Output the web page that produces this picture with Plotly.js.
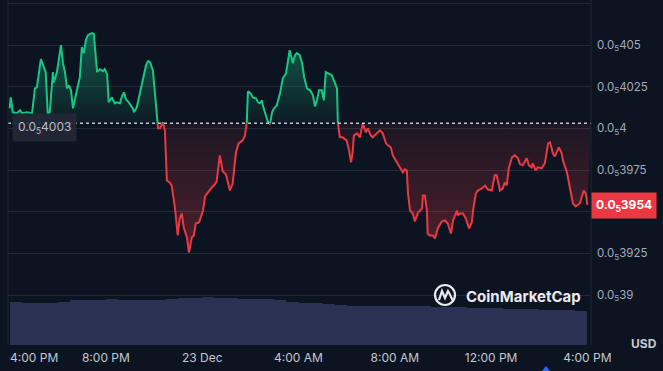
<!DOCTYPE html>
<html><head><meta charset="utf-8">
<script src="https://cdn.plot.ly/plotly-3.0.1.min.js"></script>
<style>html,body{margin:0;padding:0;background:#0d1421;overflow:hidden}#chart{width:663px;height:371px}</style>
</head><body><div id="chart"></div>
<script>
// Time origin: 22 Dec, 4:00 PM. minutes = minutes after that moment.
const START = Date.UTC(2023, 11, 22, 16, 0, 0);
const minutes = [
  0,3,8,18,26,31,43,56,63,68,
  78,83,90,95,100,108,110,118,128,133,
  138,143,148,153,158,165,175,180,185,190,
  195,205,210,215,218,225,233,237,243,247,
  255,258,262,267,275,280,285,290,297,307,
  310,317,330,340,345,350,357,360,367,370,
  375,382,387,392,399,404,412,419,424,429,
  434,442,447,454,459,464,472,482,487,494,
  504,511,516,524,531,539,549,556,564,571,
  581,586,591,594,601,606,614,619,624,629,
  631,639,644,649,654,659,666,674,681,689,
  693,698,706,711,716,723,729,734,741,749,
  756,761,766,771,778,783,788,793,803,808,
  816,818,823,830,840,846,851,855,858,866,
  873,880,888,893,900,905,915,923,930,938,
  943,950,955,965,973,980,985,990,993,998,
  1005,1010,1018,1028,1030,1035,1040,1042,1047,1055,
  1060,1067,1077,1085,1092,1100,1105,1115,1117,1122,
  1130,1137,1145,1152,1155,1162,1167,1177,1185,1192,
  1202,1209,1214,1222,1229,1234,1239,1244,1252,1259,
  1267,1272,1279,1289,1294,1301,1304,1311,1316,1326,
  1334,1342,1347,1354,1359,1369,1376,1379,1389,1396,
  1404,1411,1421,1431,1436,1440
];
// price in units of 1e-6 USD (0.0₅4003 = 0.000004003)
const prices = [
  4.0120,4.0186,4.0096,4.0090,4.0108,4.0090,4.0096,4.0090,4.0240,4.0246,
  4.0415,4.0379,4.0337,4.0090,4.0096,4.0337,4.0276,4.0337,4.0499,4.0391,
  4.0337,4.0240,4.0258,4.0228,4.0120,4.0198,4.0307,4.0487,4.0451,4.0529,
  4.0559,4.0571,4.0565,4.0421,4.0337,4.0355,4.0343,4.0355,4.0325,4.0156,
  4.0186,4.0168,4.0150,4.0156,4.0150,4.0192,4.0216,4.0174,4.0156,4.0120,
  4.0096,4.0126,4.0276,4.0379,4.0403,4.0397,4.0349,4.0270,4.0048,4.0000,
  4.0000,4.0036,3.9988,3.9687,3.9675,3.9657,3.9525,3.9357,3.9459,3.9489,
  3.9405,3.9345,3.9255,3.9345,3.9357,3.9429,3.9435,3.9507,3.9591,3.9615,
  3.9645,3.9663,3.9681,3.9838,3.9742,3.9724,3.9627,3.9669,3.9856,3.9910,
  3.9928,3.9952,4.0030,4.0222,4.0210,4.0186,4.0180,4.0156,4.0150,4.0168,
  4.0138,4.0066,4.0036,4.0024,4.0096,4.0120,4.0138,4.0210,4.0301,4.0331,
  4.0397,4.0469,4.0391,4.0439,4.0451,4.0439,4.0391,4.0307,4.0240,4.0228,
  4.0198,4.0132,4.0168,4.0228,4.0228,4.0168,4.0337,4.0331,4.0319,4.0288,
  4.0240,4.0036,3.9946,3.9946,3.9928,3.9868,3.9796,3.9856,3.9958,3.9970,
  3.9946,4.0028,3.9976,4.0000,3.9958,3.9946,3.9970,3.9988,3.9970,3.9910,
  3.9898,3.9886,3.9838,3.9796,3.9766,3.9736,3.9754,3.9748,3.9609,3.9507,
  3.9489,3.9441,3.9495,3.9519,3.9597,3.9597,3.9507,3.9369,3.9357,3.9357,
  3.9339,3.9399,3.9441,3.9447,3.9429,3.9369,3.9447,3.9507,3.9477,3.9489,
  3.9489,3.9459,3.9399,3.9435,3.9507,3.9609,3.9627,3.9639,3.9657,3.9633,
  3.9627,3.9718,3.9718,3.9627,3.9639,3.9675,3.9657,3.9760,3.9826,3.9838,
  3.9820,3.9784,3.9778,3.9820,3.9778,3.9766,3.9790,3.9748,3.9766,3.9760,
  3.9790,3.9910,3.9916,3.9850,3.9832,3.9886,3.9850,3.9808,3.9736,3.9645,
  3.9549,3.9531,3.9549,3.9627,3.9609,3.9540
];
const openPrice = 4.003;
const lastPrice = 3.954;
// volume per 30-minute bucket (relative)
const volumeBucketMin = 30;
const volume = [
  4.35,4.23,4.23,4.25,4.35,4.50,4.53,4.55,4.57,4.55,
  4.53,4.50,4.55,4.60,4.67,4.75,4.83,4.75,4.67,4.65,
  4.63,4.60,4.55,4.35,4.25,4.17,4.10,4.03,3.95,3.93,
  3.90,3.90,3.88,3.90,3.90,3.85,3.82,3.80,3.75,3.73,
  3.70,3.65,3.62,3.58,3.55,3.52,3.50,3.45
];
const priceTicks = [3.9, 3.925, 3.95, 3.975, 4.0, 4.025, 4.05, 4.075];
const priceTickText = ['0.0<sub>5</sub>39','0.0<sub>5</sub>3925','','0.0<sub>5</sub>3975','0.0<sub>5</sub>4','0.0<sub>5</sub>4025','0.0<sub>5</sub>405',''];
const timeTickMinutes = [240, 480, 720, 960, 1200, 1440];
const timeTickText = ['8:00 PM','23 Dec','4:00 AM','8:00 AM','12:00 PM','4:00 PM'];
const firstTimeLabel = '4:00 PM';
const openLabel = '0.0<sub>5</sub>4003';
const lastLabel = '<b>0.0<sub>5</sub>3954</b>';

const toTime = m => START + m * 60000;
const times = minutes.map(toTime);
const volTimes = volume.map((v, i) => toTime(i * volumeBucketMin + volumeBucketMin / 2));

const Y0 = 3.87, Y1 = 4.077;
const fb = (openPrice - Y0) / (Y1 - Y0);
const xRange = [toTime(-4), toTime(1449)];
const volMax = Math.max(...volume) * 345 / 48.3;

const px2paperX = p => (p - 8) / 583;
const px2paperY = p => (345 - p) / 345;

const GREEN = '#16c784', RED = '#ea3943';
const FONT = 'Inter, "Noto Sans", sans-serif';

const traces = [
  {type:'bar', x: volTimes, y: volume, width: volumeBucketMin*60000, xaxis:'x', yaxis:'y4',
   marker:{color:'#2a3152', line:{width:0}}, hoverinfo:'skip', showlegend:false},
  {type:'scatter', mode:'lines', x: times, y: prices, xaxis:'x', yaxis:'y2',
   line:{color:GREEN, width:2}, fill:'tozeroy',
   fillgradient:{type:'vertical', start: openPrice, stop: 4.058,
     colorscale:[[0,'rgba(22,199,132,0.04)'],[1,'rgba(22,199,132,0.42)']]},
   hoverinfo:'skip', showlegend:false},
  {type:'scatter', mode:'lines', x: xRange, y: [openPrice, openPrice], xaxis:'x', yaxis:'y3',
   line:{width:0, color:'rgba(0,0,0,0)'}, hoverinfo:'skip', showlegend:false},
  {type:'scatter', mode:'lines', x: times, y: prices, xaxis:'x', yaxis:'y3',
   line:{color:RED, width:2}, fill:'tonexty',
   fillgradient:{type:'vertical', start: 3.925, stop: openPrice,
     colorscale:[[0,'rgba(234,57,67,0.30)'],[1,'rgba(234,57,67,0.07)']]},
   hoverinfo:'skip', showlegend:false}
];

const layout = {
  width:663, height:371,
  margin:{l:8, r:72, t:0, b:26},
  paper_bgcolor:'#0d1421', plot_bgcolor:'rgba(0,0,0,0)',
  font:{family:FONT, color:'#c3c7d1'},
  showlegend:false, bargap:0,
  xaxis:{type:'date', range:xRange, tickmode:'array', tickvals: timeTickMinutes.map(toTime),
    ticktext: timeTickText, showgrid:false, zeroline:false, showline:false, ticks:'',
    tickfont:{size:12, color:'#c3c7d1', family:FONT}, ticklabelstandoff:4, automargin:false, fixedrange:true},
  yaxis:{range:[Y0, Y1], domain:[0,1], side:'right', tickmode:'array', tickvals: priceTicks,
    ticktext: priceTickText, showgrid:true, gridcolor:'#232b3b', gridwidth:1, zeroline:false,
    showline:false, ticks:'', tickfont:{size:11.5, color:'#a3a9bb', family:FONT},
    ticklabelstandoff:5, automargin:false, fixedrange:true},
  yaxis2:{range:[openPrice, Y1], domain:[fb, 1], anchor:'x', visible:false, fixedrange:true},
  yaxis3:{range:[Y0, openPrice], domain:[0, fb], anchor:'x', visible:false, fixedrange:true},
  yaxis4:{range:[0, volMax], domain:[0,1], anchor:'x', overlaying:'y', visible:false, fixedrange:true},
  shapes:[
    {type:'line', xref:'paper', yref:'y', x0:0, x1:1, y0:openPrice, y1:openPrice,
     line:{color:'rgba(222,226,234,0.85)', width:1.5, dash:'dot'}},
    {type:'line', xref:'paper', yref:'paper', x0:0, x1:0, y0:0, y1:1, line:{color:'#1f2736', width:1}},
    {type:'line', xref:'paper', yref:'paper', x0:1, x1:1, y0:0, y1:1, line:{color:'#1f2736', width:1}},
    {type:'circle', xref:'paper', yref:'paper', xsizemode:'pixel', ysizemode:'pixel',
     xanchor: px2paperX(445), yanchor: px2paperY(295), x0:-10, x1:10, y0:-10, y1:10,
     line:{color:'#e8eaf0', width:2.2}},
    {type:'path', xref:'paper', yref:'paper', xsizemode:'pixel', ysizemode:'pixel',
     xanchor: px2paperX(445), yanchor: px2paperY(295),
     path:'M -6 -5 L -3 4 L 0 -3 L 3 4 C 5 1 6 -2 8 -6',
     line:{color:'#e8eaf0', width:2.2}},
    {type:'path', xref:'paper', yref:'paper', xsizemode:'pixel', ysizemode:'pixel',
     xanchor: px2paperX(546), yanchor: px2paperY(371),
     path:'M -4 0 L 0 5 L 4 0 Z', fillcolor:'#3861fb', line:{width:0}}
  ],
  annotations:[
    {xref:'paper', yref:'y', x:0, y:openPrice, xanchor:'left', yanchor:'middle', xshift:4, yshift:-4,
     text: openLabel, showarrow:false, bgcolor:'rgba(36,40,54,0.92)', borderpad:5,
     font:{size:12, color:'#b9bdc9', family:FONT}},
    {xref:'paper', yref:'y', x:1, y:lastPrice, xanchor:'left', yanchor:'middle', xshift:0,
     text: lastLabel, showarrow:false, bgcolor:RED, borderpad:4,
     font:{size:12, color:'#ffffff', family:FONT}},
    {xref:'paper', yref:'paper', x:0, y:px2paperY(357), xanchor:'left', yanchor:'middle',
     text: firstTimeLabel, showarrow:false, font:{size:12, color:'#c3c7d1', family:FONT}},
    {xref:'paper', yref:'paper', x:px2paperX(644), y:px2paperY(343), xanchor:'center', yanchor:'middle',
     text:'<b>USD</b>', showarrow:false, font:{size:12, color:'#c7cad3', family:FONT}},
    {xref:'paper', yref:'paper', x:px2paperX(464), y:px2paperY(296), xanchor:'left', yanchor:'middle',
     text:'<b>CoinMarketCap</b>', showarrow:false, font:{size:15, color:'#e8eaf0', family:FONT}}
  ]
};

Plotly.newPlot('chart', traces, layout, {staticPlot:true, displayModeBar:false});
</script>
</body></html>
